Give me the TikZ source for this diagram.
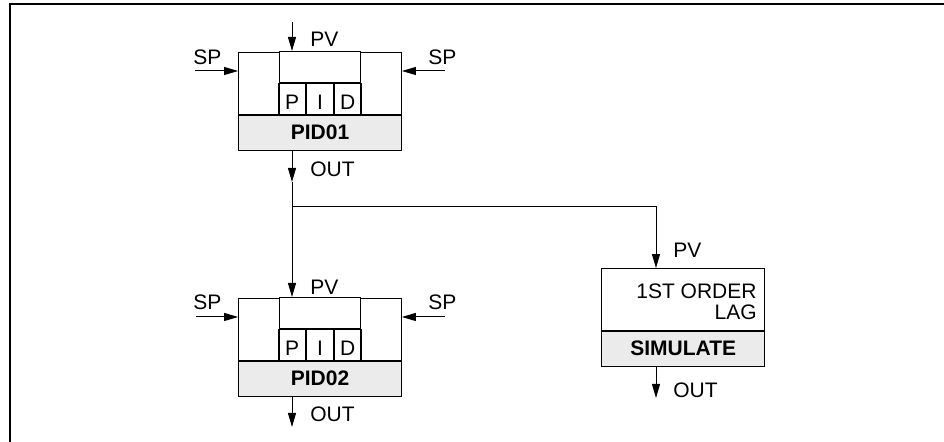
\documentclass[tikz,border=0pt]{standalone}
\usepackage{fontspec}
\setmainfont{Liberation Sans}
\usepackage{tikz}
\usetikzlibrary{arrows.meta,positioning}
\definecolor{tagfill}{RGB}{235,235,235}

\begin{document}
\begin{tikzpicture}[x=0.5pt, y=-0.5pt,
    tag/.style={rectangle, draw, fill=tagfill, minimum width=81.5pt, minimum height=17.5pt, inner sep=0pt, font=\bfseries\fontsize{10.5}{10.5}\selectfont},
    side/.style={rectangle, draw, minimum width=20.5pt, minimum height=31pt, inner sep=0pt},
    core/.style={rectangle, draw, minimum width=40.5pt, minimum height=15.5pt, inner sep=0pt},
    term/.style={rectangle, draw, minimum width=13.5pt, minimum height=15.5pt, inner sep=0pt, text height=10.5pt, text depth=0pt, font=\fontsize{10.5}{10.5}\selectfont},
    lagbox/.style={rectangle, draw, minimum width=81.5pt, minimum height=31pt, inner sep=0pt},
    lbl/.style={inner sep=0pt, font=\fontsize{10.5}{10.5}\selectfont},
    flow/.style={-{Triangle[length=7pt, width=4pt]}, line width=0.5pt}
  ]
    \useasboundingbox (0,0) rectangle (944,442);
    \draw[line width=1pt] (10,442) -- (10,4.5) -- (944,4.5);

    % PID01
    \node[tag] (pid1) at (320,132.5) {PID01};
    \node[side, anchor=south west] (pid1l) at (pid1.north west) {};
    \node[side, anchor=south east] (pid1r) at (pid1.north east) {};
    \node[term, anchor=south] (pid1i) at (pid1.north) {I};
    \node[term, left=0pt of pid1i] (pid1p) {P};
    \node[term, right=0pt of pid1i] (pid1d) {D};
    \node[core, anchor=south] (pid1m) at (pid1i.north) {};
    \draw[line width=1pt] (pid1.north west) -- (pid1.north east);

    % PID02
    \node[tag] (pid2) at (320,378.5) {PID02};
    \node[side, anchor=south west] (pid2l) at (pid2.north west) {};
    \node[side, anchor=south east] (pid2r) at (pid2.north east) {};
    \node[term, anchor=south] (pid2i) at (pid2.north) {I};
    \node[term, left=0pt of pid2i] (pid2p) {P};
    \node[term, right=0pt of pid2i] (pid2d) {D};
    \node[core, anchor=south] (pid2m) at (pid2i.north) {};
    \draw[line width=1pt] (pid2.north west) -- (pid2.north east);

    % SIMULATE
    \node[tag] (sim) at (683.25,348.75) {SIMULATE};
    \node[lagbox, anchor=south] (simu) at (sim.north) {};
    \node[lbl, align=right, anchor=north east] (simt) at (757,283) {1ST ORDER\\LAG};

    % labels
    \node[lbl, anchor=base west] (pv1t) at (310,47) {PV};
    \node[lbl, anchor=base west] (sp1at) at (193,65) {SP};
    \node[lbl, anchor=base west] (sp1bt) at (428,65) {SP};
    \node[lbl, anchor=base west] (out1t) at (310,177) {OUT};
    \node[lbl, anchor=base west] (pv2t) at (310,295) {PV};
    \node[lbl, anchor=base west] (sp2at) at (193,310) {SP};
    \node[lbl, anchor=base west] (sp2bt) at (428,310) {SP};
    \node[lbl, anchor=base west] (out2t) at (310,422) {OUT};
    \node[lbl, anchor=base west] (pv3t) at (673,258) {PV};
    \node[lbl, anchor=base west] (out3t) at (673,398) {OUT};

    % connectors
    \coordinate (pv1) at (292,22);
    \coordinate (sp1a) at (195,71);
    \coordinate (sp1b) at (445,71);
    \coordinate (out1) at (292,182);
    \coordinate (fork) at (292,206);
    \coordinate (pv3) at (656,206);
    \coordinate (sp2a) at (196,317);
    \coordinate (sp2b) at (445,317);
    \coordinate (out2) at (292,427);
    \coordinate (out3) at (656,398);
    \draw[flow] (pv1) -- (pv1 |- pid1m.north);
    \draw[flow] (sp1a) -- (sp1a -| pid1l.west);
    \draw[flow] (sp1b) -- (sp1b -| pid1r.east);
    \draw[flow] (pid1.south -| out1) -- (out1);
    \draw (out1) -- (fork);
    \draw[flow] (fork) -- (fork |- pid2m.north);
    \draw (fork) -- (pv3);
    \draw[flow] (pv3) -- (pv3 |- simu.north);
    \draw[flow] (sp2a) -- (sp2a -| pid2l.west);
    \draw[flow] (sp2b) -- (sp2b -| pid2r.east);
    \draw[flow] (pid2.south -| out2) -- (out2);
    \draw[flow] (sim.south -| out3) -- (out3);
  \end{tikzpicture}
\end{document}
